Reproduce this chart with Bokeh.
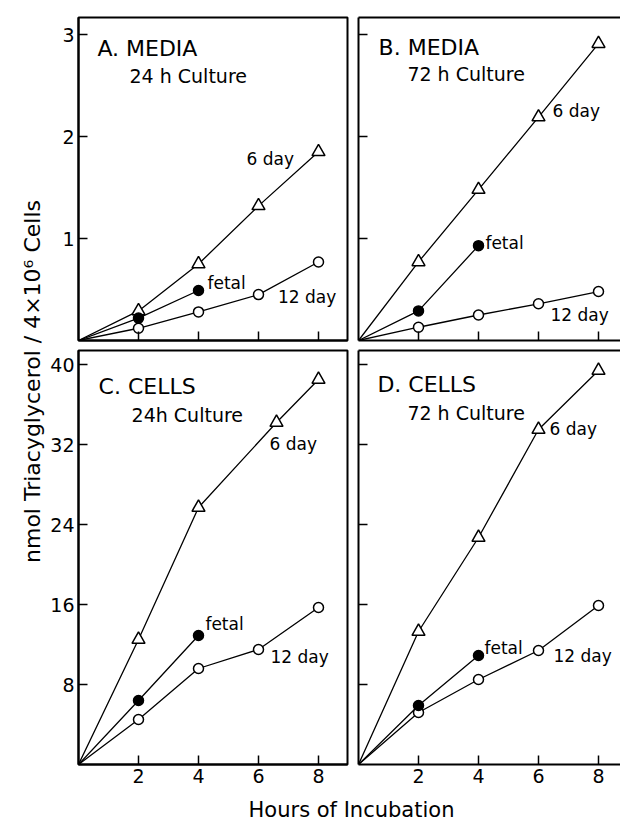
import math
from bokeh.plotting import figure
from bokeh.layouts import row, column
from bokeh.models import Range1d, LinearAxis, FixedTicker, Label, CustomJSTickFormatter
from bokeh.embed import file_html
from bokeh.resources import INLINE

FONT = "DejaVu Sans"

# ---------------- data ----------------
hours = [0, 2, 4, 6, 8]
fetal_hours = [0, 2, 4]

# A. MEDIA, 24 h culture (nmol)
a_6day = [0, 0.29, 0.75, 1.32, 1.85]
a_fetal = [0, 0.22, 0.49]
a_12day = [0, 0.12, 0.28, 0.45, 0.77]

# B. MEDIA, 72 h culture
b_6day = [0, 0.77, 1.48, 2.19, 2.91]
b_fetal = [0, 0.29, 0.93]
b_12day = [0, 0.13, 0.25, 0.36, 0.48]

# C. CELLS, 24 h culture
c_6day_hours = [0, 2, 4, 6.6, 8]
c_6day = [0, 12.5, 25.7, 34.2, 38.5]
c_fetal = [0, 6.4, 12.9]
c_12day = [0, 4.5, 9.6, 11.5, 15.7]

# D. CELLS, 72 h culture
d_6day = [0, 13.3, 22.7, 33.5, 39.4]
d_fetal = [0, 5.9, 10.9]
d_12day = [0, 5.2, 8.5, 11.4, 15.9]

x_ticks = [2, 4, 6, 8]
media_ticks = [1, 2, 3]
cells_ticks = [8, 16, 24, 32, 40]

y_title = "nmol Triacyglycerol / 4\u00d710\u2076 Cells"
x_title = "Hours of Incubation"


def style_axis(ax, ticks, show_labels):
    ax.ticker = FixedTicker(ticks=ticks)
    ax.major_tick_in = 9
    ax.major_tick_out = 0
    ax.minor_tick_line_color = None
    ax.axis_line_width = 2
    ax.axis_line_color = "black"
    ax.major_tick_line_width = 1.5
    ax.major_tick_line_color = "black"
    if show_labels:
        ax.major_label_text_font = FONT
        ax.major_label_text_font_size = "19px"
        ax.major_label_text_color = "black"
        ax.major_label_standoff = 4
    else:
        ax.formatter = CustomJSTickFormatter(code="return ''")
        ax.major_label_standoff = 0


def panel(x_end, y_end, yticks, xlab, ylab, left, right, top, bottom,
          fw, fh, outline):
    p = figure(frame_width=fw, frame_height=fh,
               x_range=Range1d(0, x_end), y_range=Range1d(0, y_end),
               output_backend="svg", toolbar_location=None,
               min_border_left=left, min_border_right=right,
               min_border_top=top, min_border_bottom=bottom,
               background_fill_color="white", border_fill_color="white")
    p.grid.visible = False
    style_axis(p.xaxis[0], x_ticks, xlab)
    style_axis(p.yaxis[0], yticks, ylab)
    if outline:
        p.outline_line_color = "black"
        p.outline_line_width = 2
    else:
        p.outline_line_color = None
        top_ax = LinearAxis(ticker=FixedTicker(ticks=[]))
        top_ax.major_tick_line_color = None
        top_ax.minor_tick_line_color = None
        top_ax.major_label_standoff = 0
        top_ax.axis_line_width = 2
        top_ax.axis_line_color = "black"
        p.add_layout(top_ax, "above")
    return p


def draw(p, six_h, six_v, fet_v, twelve_v):
    p.line(six_h, six_v, line_color="black", line_width=1.3)
    p.line(fetal_hours, fet_v, line_color="black", line_width=1.3)
    p.line(hours, twelve_v, line_color="black", line_width=1.3)
    p.scatter(six_h[1:], six_v[1:], marker="triangle", size=13,
              fill_color="white", line_color="black", line_width=1.5)
    p.scatter(hours[1:], twelve_v[1:], marker="circle", size=10,
              fill_color="white", line_color="black", line_width=1.5)
    p.scatter(fetal_hours[1:], fet_v[1:], marker="circle", size=10,
              fill_color="black", line_color="black", line_width=1.5)


def label(p, x, y, text, size="17px", baseline="middle"):
    p.add_layout(Label(x=x, y=y, text=text, text_font=FONT,
                       text_font_size=size, text_color="black",
                       text_align="left", text_baseline=baseline))


# ---------------- panels ----------------
pa = panel(269 / 30, 323 / 102, media_ticks, False, True, 33, 5, 17, 5, 269, 323, True)
draw(pa, hours, a_6day, a_fetal, a_12day)
label(pa, 0.63, 2.86, "A. MEDIA", "22px")
label(pa, 1.7, 2.59, "24 h Culture", "19px")
label(pa, 5.6, 1.78, "6 day")
label(pa, 4.3, 0.56, "fetal")
label(pa, 6.65, 0.43, "12 day")

pb = panel(262 / 30, 323 / 102, media_ticks, False, False, 6, 0, 17, 5, 262, 323, False)
draw(pb, hours, b_6day, b_fetal, b_12day)
label(pb, 0.67, 2.87, "B. MEDIA", "22px")
label(pb, 1.63, 2.61, "72 h Culture", "19px")
label(pb, 6.47, 2.25, "6 day")
label(pb, 4.23, 0.96, "fetal")
label(pb, 6.4, 0.25, "12 day")

pc = panel(269 / 30, 414 / 10, cells_ticks, True, True, 33, 5, 5, 28, 269, 414, True)
draw(pc, c_6day_hours, c_6day, c_fetal, c_12day)
label(pc, 0.67, 37.8, "C. CELLS", "22px")
label(pc, 1.77, 35.0, "24h Culture", "19px")
label(pc, 6.37, 32.1, "6 day")
label(pc, 4.23, 14.1, "fetal")
label(pc, 6.4, 10.8, "12 day")

pd = panel(262 / 30, 414 / 10, cells_ticks, True, False, 6, 0, 5, 28, 262, 414, False)
draw(pd, hours, d_6day, d_fetal, d_12day)
label(pd, 0.63, 38.0, "D. CELLS", "22px")
label(pd, 1.63, 35.2, "72 h Culture", "19px")
label(pd, 6.37, 33.6, "6 day")
label(pd, 4.2, 11.7, "fetal")
label(pd, 6.5, 10.9, "12 day")

# ---------------- shared axis titles ----------------
ylab = figure(width=45, height=792, x_range=Range1d(0, 45), y_range=Range1d(0, 792),
              output_backend="svg", toolbar_location=None, min_border=0)
ylab.axis.visible = False
ylab.grid.visible = False
ylab.outline_line_color = None
ylab.add_layout(Label(x=32, y=792 - 381, text=y_title, angle=math.pi / 2,
                      text_font=FONT, text_font_size="22px", text_color="black",
                      text_align="center", text_baseline="middle"))

xlab = figure(width=620, height=30, x_range=Range1d(0, 620), y_range=Range1d(0, 30),
              output_backend="svg", toolbar_location=None, min_border=0)
xlab.axis.visible = False
xlab.grid.visible = False
xlab.outline_line_color = None
xlab.add_layout(Label(x=351, y=13, text=x_title, text_font=FONT,
                      text_font_size="21px", text_color="black",
                      text_align="center", text_baseline="middle"))

layout = column(row(ylab, column(row(pa, pb), row(pc, pd))), xlab)

open("out.html", "w").write(file_html(layout, INLINE))
